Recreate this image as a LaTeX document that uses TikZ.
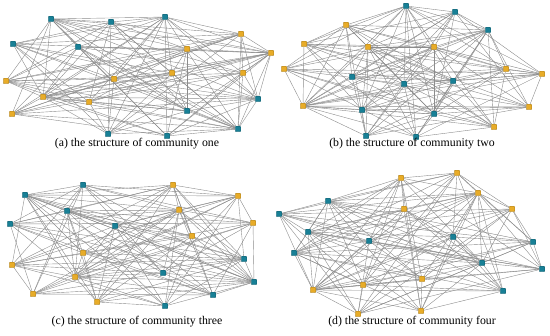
\documentclass[tikz,border=0pt]{standalone}
\usepackage{fontspec}
\setmainfont{Liberation Serif}
\usepackage{tikz}
\usetikzlibrary{backgrounds}

\definecolor{nteal}{RGB}{24,128,150}
\definecolor{norange}{RGB}{232,172,40}

\tikzset{
  vert/.style={rectangle,rounded corners=0.8pt,minimum size=5.5pt,inner sep=0pt,draw=#1!70!black,fill=#1,line width=0.3pt},
  edge/.style={draw=black!45,line width=0.4pt},
  caption/.style={font=\fontsize{11.8}{13}\selectfont,inner sep=0pt}
}

\begin{document}
\begin{tikzpicture}[x=1pt,y=-1pt]
						\useasboundingbox (0,0) rectangle (550,336);
						
						% community one
						\foreach \x/\y/\c [count=\n] in {51/19/nteal,111/22/nteal,165/17/nteal,13/44/nteal,78/47/nteal,258/99/nteal,187/111/nteal,238/129/nteal,108/134/nteal,167/136/nteal,241/34/norange,187/49/norange,271/53/norange,172/73/norange,243/73/norange,114/79/norange,6/81/norange,43/97/norange,89/102/norange,12/114/norange}
							\node[vert=\c] (a\n) at (\x,\y) {};
						% community two
						\foreach \x/\y/\c [count=\n] in {406/6/nteal,455/12/nteal,488/30/nteal,352/77/nteal,404/84/nteal,453/81/nteal,362/110/nteal,434/114/nteal,366/136/nteal,416/137/nteal,346/25/norange,304/44/norange,368/47/norange,434/47/norange,284/69/norange,506/69/norange,542/74/norange,303/106/norange,529/107/norange,494/127/norange}
							\node[vert=\c] (b\n) at (\x,\y) {};
						% community three
						\foreach \x/\y/\c [count=\n] in {25/195/nteal,83/185/nteal,67/211/nteal,10/224/nteal,115/226/nteal,244/259/nteal,163/273/nteal,254/282/nteal,213/295/nteal,165/306/nteal,173/185/norange,238/196/norange,179/210/norange,253/223/norange,192/236/norange,83/253/norange,12/265/norange,75/277/norange,33/294/norange,97/302/norange}
							\node[vert=\c] (c\n) at (\x,\y) {};
						% community four
						\foreach \x/\y/\c [count=\n] in {328/201/nteal,279/214/nteal,308/232/nteal,369/241/nteal,453/237/nteal,294/253/nteal,533/242/nteal,482/263/nteal,542/269/nteal,503/291/nteal,401/178/norange,457/173/norange,478/193/norange,512/209/norange,404/209/norange,422/279/norange,363/285/norange,313/290/norange,358/314/norange,421/311/norange}
							\node[vert=\c] (d\n) at (\x,\y) {};
						
						\begin{scope}[on background layer]
						\foreach \p/\s in {a/1,b/2,c/3,d/4}
							\foreach \i in {1,...,19} {
								\pgfmathtruncatemacro\k{\i+1}
								\foreach \j in {\k,...,20} {
									\pgfmathtruncatemacro\keep{mod(\i*7+\j*\j*3+\i*\j+\s*5,5)}
									\ifnum\keep<3 \draw[edge] (\p\i) -- (\p\j);\fi
								}
							}
						\end{scope}
						
						\node[caption] (capa) at (137,144) {(a) the structure of community one};
						\node[caption] (capb) at (412,144) {(b) the structure of community two};
						\node[caption] (capc) at (137,322) {(c) the structure of community three};
						\node[caption] (capd) at (412,322) {(d) the structure of community four};
					\end{tikzpicture}
\end{document}
